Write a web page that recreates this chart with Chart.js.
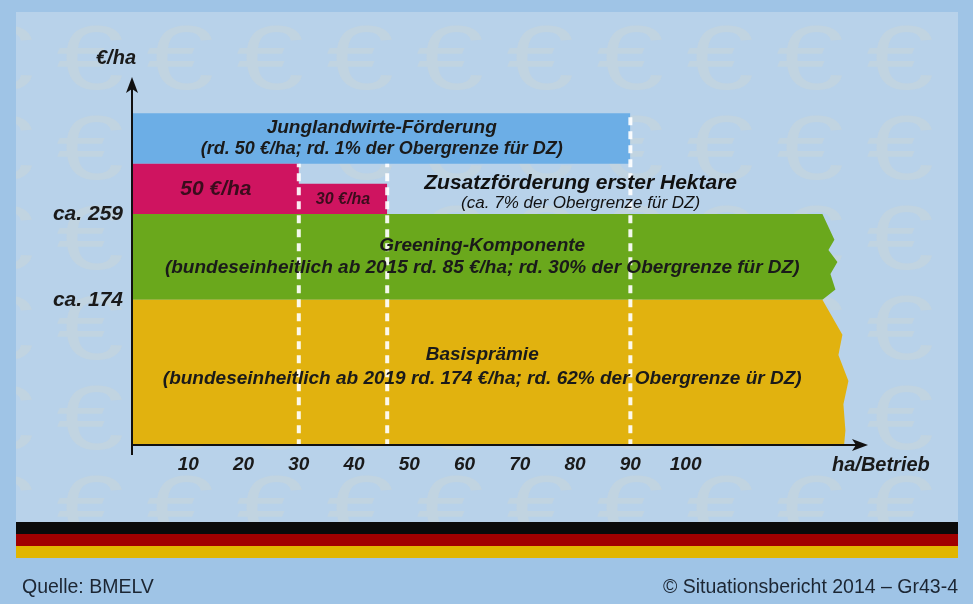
<!DOCTYPE html>
<html lang="de">
<head>
<meta charset="utf-8">
<script src="https://cdn.jsdelivr.net/npm/chart.js@4.4.1/dist/chart.umd.min.js"></script>
<style>
  html, body { margin: 0; padding: 0; }
  body { width: 973px; height: 604px; background: #9fc4e6; position: relative; overflow: hidden; font-family: 'Liberation Sans', Arial, sans-serif; }
  #panel { position: absolute; left: 16px; top: 12px; width: 942px; height: 510px; background: #b8d2ea; }
  #flag { position: absolute; left: 16px; top: 522px; width: 942px; height: 36px; }
  #flag div { height: 12px; }
  canvas { position: absolute; left: 0; top: 0; }
  .foot { position: absolute; top: 575px; font-size: 19.5px; color: #1c2633; }
</style>
</head>
<body>
<div id="panel"></div>
<div id="flag"><div style="background:#0b0b0b"></div><div style="background:#a10000"></div><div style="background:#e2b600"></div></div>
<canvas id="chart" width="973" height="604"></canvas>
<div class="foot" style="left:22px">Quelle: BMELV</div>
<div class="foot" style="right:15px">© Situationsbericht 2014 – Gr43-4</div>
<script>
// Prämien in €/ha
const basisPraemie = 174;
const greening = 85;
const junglandwirte = 50;
// Zusatzförderung erster Hektare: Stufen (bis ha) und Betrag (€/ha)
const zusatzBisHa = [30, 46];
const zusatzEuro = [50, 30];
const junglandwirteBisHa = 90;
const betriebEndeHa = 130;

const xTicks = [10, 20, 30, 40, 50, 60, 70, 80, 90, 100];
const yTicks = [174, 259];

const basisText = ['Basisprämie', '(bundeseinheitlich ab 2019 rd. 174 €/ha; rd. 62% der Obergrenze ür DZ)'];
const greeningText = ['Greening-Komponente', '(bundeseinheitlich ab 2015 rd. 85 €/ha; rd. 30% der Obergrenze für DZ)'];
const junglandText = ['Junglandwirte-Förderung', '(rd. 50 €/ha; rd. 1% der Obergrenze für DZ)'];
const zusatzText = ['Zusatzförderung erster Hektare', '(ca. 7% der Obergrenze für DZ)'];

const greenTop = basisPraemie + greening;
const zusatzTop = greenTop + zusatzEuro[0];
const junglandTop = zusatzTop + junglandwirte;

const FONT = '"Liberation Sans", Arial, sans-serif';
const INK = '#1a1a1a';

function band(color, points, fill, extra) {
    return Object.assign({
        data: points,
        backgroundColor: color,
        borderColor: 'transparent',
        borderWidth: 0,
        pointRadius: 0,
        fill: fill,
        order: 1,
    }, extra || {});
}

function divider(ha, top) {
    return {
        data: [{ x: ha, y: 0 }, { x: ha, y: top }],
        borderColor: 'rgba(255,255,255,0.92)',
        borderWidth: 4,
        borderDash: [8, 6],
        pointRadius: 0,
        fill: false,
        order: 0,
    };
}

const euroWatermark = {
    id: 'euroWatermark',
    beforeDraw(chart) {
        const ctx = chart.ctx;
        ctx.save();
        ctx.beginPath();
        ctx.rect(16, 12, 942, 510);
        ctx.clip();
        ctx.font = '90px ' + FONT;
        ctx.fillStyle = 'rgba(230, 222, 190, 0.2)';
        ctx.textAlign = 'center';
        ctx.textBaseline = 'middle';
        for (let r = 0; r < 6; r++) {
            for (let c = 0; c < 11; c++) {
                ctx.save();
                ctx.translate(0 + c * 90, 64 + r * 90);
                ctx.scale(1.35, 1);
                ctx.fillText('€', 0, 0);
                ctx.restore();
            }
        }
        ctx.restore();
    }
};

// ausgefranster rechter Rand von Greening und Basisprämie
const tornEdge = {
    id: 'tornEdge',
    beforeDatasetsDraw(chart) {
        const { ctx, scales: { x, y } } = chart;
        const e = x.getPixelForValue(betriebEndeHa);
        const gTop = y.getPixelForValue(greenTop);
        const gBot = y.getPixelForValue(basisPraemie);
        const bBot = y.bottom;
        const green = [[0, -29], [0.3, -17], [0.42, -23], [0.56, -14], [0.7, -21], [0.88, -16], [1, -29]];
        const gold = [[0, -29], [0.24, -9], [0.38, -13], [0.56, -3], [0.72, -8], [0.9, -6], [1.05, -8]];
        ctx.save();
        ctx.beginPath();
        ctx.moveTo(0, 0);
        ctx.lineTo(chart.width, 0);
        ctx.lineTo(chart.width, gTop);
        green.forEach(([f, dx]) => ctx.lineTo(e + dx, gTop + f * (gBot - gTop)));
        gold.forEach(([f, dx]) => ctx.lineTo(e + dx, gBot + f * (bBot - gBot)));
        ctx.lineTo(0, chart.height);
        ctx.closePath();
        ctx.clip();
    },
    afterDatasetsDraw(chart) {
        chart.ctx.restore();
    }
};

function drawLines(ctx, lines, cx, cy, fonts, gap) {
    lines.forEach((t, i) => {
        ctx.font = fonts[i];
        ctx.fillText(t, cx, cy + (i - (lines.length - 1) / 2) * gap);
    });
}

const bandLabels = {
    id: 'bandLabels',
    afterDatasetsDraw(chart) {
        const { ctx, scales: { x, y } } = chart;
        const e = x.getPixelForValue(betriebEndeHa) - 20;
        const bold = sz => 'italic bold ' + sz + 'px ' + FONT;
        ctx.save();
        ctx.fillStyle = INK;
        ctx.textAlign = 'center';
        ctx.textBaseline = 'middle';

        const midX = (x.left + e) / 2;
        drawLines(ctx, basisText, midX, (y.getPixelForValue(basisPraemie) + y.bottom) / 2 - 6, [bold(19), bold(19)], 24);
        drawLines(ctx, greeningText, midX, (y.getPixelForValue(basisPraemie) + y.getPixelForValue(greenTop)) / 2, [bold(19), bold(19)], 22);
        drawLines(ctx, junglandText, x.getPixelForValue(junglandwirteBisHa / 2),
            (y.getPixelForValue(zusatzTop) + y.getPixelForValue(junglandTop)) / 2, [bold(19), bold(18)], 21);

        const zMid = (y.getPixelForValue(zusatzTop) + y.getPixelForValue(greenTop)) / 2;
        ctx.fillStyle = '#111111';
        drawLines(ctx, zusatzText, x.getPixelForValue(81), zMid + 4, [bold(21), 'italic 17px ' + FONT], 20);

        ctx.fillStyle = '#3a0c1c';
        ctx.font = bold(21);
        ctx.fillText(zusatzEuro[0] + ' €/ha', x.getPixelForValue(zusatzBisHa[0] / 2), zMid);
        ctx.font = bold(16);
        ctx.fillText(zusatzEuro[1] + ' €/ha', x.getPixelForValue((zusatzBisHa[0] + zusatzBisHa[1]) / 2),
            (y.getPixelForValue(greenTop + zusatzEuro[1]) + y.getPixelForValue(greenTop)) / 2 + 1);
        ctx.restore();
    }
};

const arrowAxes = {
    id: 'arrowAxes',
    afterDraw(chart) {
        const { ctx, chartArea: a } = chart;
        const ax = a.left - 1, ay = a.bottom;
        const xEnd = a.right;
        ctx.save();
        ctx.strokeStyle = '#111111';
        ctx.fillStyle = '#111111';
        ctx.lineWidth = 2;
        ctx.beginPath();
        ctx.moveTo(ax, ay + 10);
        ctx.lineTo(ax, a.top + 12);
        ctx.moveTo(ax, ay);
        ctx.lineTo(xEnd - 12, ay);
        ctx.stroke();
        ctx.beginPath();
        ctx.moveTo(ax, a.top);
        ctx.lineTo(ax - 6, a.top + 16);
        ctx.lineTo(ax, a.top + 12);
        ctx.lineTo(ax + 6, a.top + 16);
        ctx.closePath();
        ctx.fill();
        ctx.beginPath();
        ctx.moveTo(xEnd, ay);
        ctx.lineTo(xEnd - 16, ay - 6);
        ctx.lineTo(xEnd - 12, ay);
        ctx.lineTo(xEnd - 16, ay + 6);
        ctx.closePath();
        ctx.fill();

        ctx.fillStyle = INK;
        ctx.textBaseline = 'middle';
        ctx.font = 'italic bold 20px ' + FONT;
        ctx.textAlign = 'center';
        ctx.fillText('€/ha', ax - 16, a.top - 19);
        ctx.textAlign = 'left';
        ctx.fillText('ha/Betrieb', xEnd - 36, ay + 20);
        ctx.restore();
    }
};

new Chart(document.getElementById('chart'), {
    type: 'line',
    data: {
        datasets: [
            divider(zusatzBisHa[0], zusatzTop),
            divider(zusatzBisHa[1], zusatzTop),
            divider(junglandwirteBisHa, junglandTop),
            band('#e1b20f', [{ x: 0, y: basisPraemie }, { x: betriebEndeHa, y: basisPraemie }], 'origin'),
            band('#6aa81c', [{ x: 0, y: greenTop }, { x: betriebEndeHa, y: greenTop }], { value: basisPraemie }),
            band('#cf1460', [
                { x: 0, y: greenTop + zusatzEuro[0] },
                { x: zusatzBisHa[0], y: greenTop + zusatzEuro[1] },
                { x: zusatzBisHa[1], y: greenTop },
            ], { value: greenTop }, { stepped: 'before' }),
            band('#6caee6', [{ x: 0, y: junglandTop }, { x: junglandwirteBisHa, y: junglandTop }], { value: zusatzTop }),
        ]
    },
    options: {
        responsive: false,
        animation: false,
        layout: { padding: { top: 77, right: 105, left: 0, bottom: 0 } },
        plugins: {
            legend: { display: false },
            tooltip: { enabled: false },
        },
        scales: {
            x: {
                type: 'linear',
                min: 0,
                max: 133,
                grid: { display: false, drawTicks: false },
                border: { display: false },
                afterBuildTicks: s => { s.ticks = xTicks.map(v => ({ value: v })); },
                afterFit: s => { s.height = 159; },
                ticks: {
                    padding: 8,
                    color: INK,
                    font: { family: FONT, size: 19, style: 'italic', weight: 'bold' },
                },
            },
            y: {
                type: 'linear',
                min: 30,
                max: 395,
                grid: { display: false, drawTicks: false },
                border: { display: false },
                afterBuildTicks: s => { s.ticks = yTicks.map(v => ({ value: v })); },
                afterFit: s => { s.width = 133; },
                ticks: {
                    padding: 10,
                    color: INK,
                    font: { family: FONT, size: 21, style: 'italic', weight: 'bold' },
                    callback: v => 'ca. ' + v,
                },
            },
        },
    },
    plugins: [euroWatermark, tornEdge, bandLabels, arrowAxes],
});
</script>
</body>
</html>
